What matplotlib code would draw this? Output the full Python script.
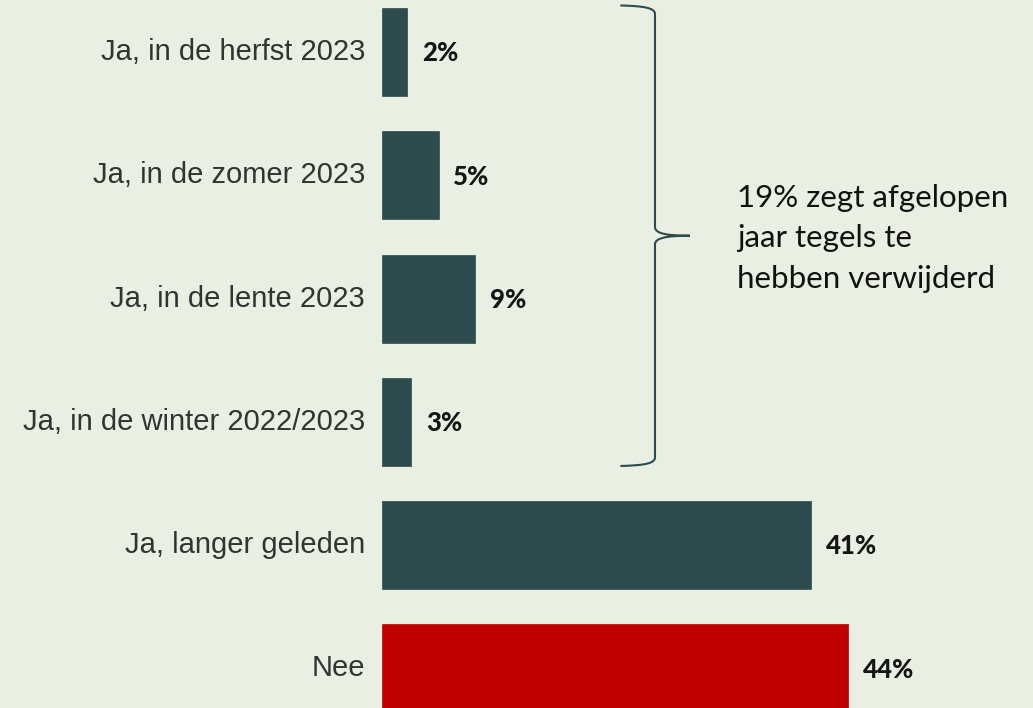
import matplotlib
matplotlib.use("Agg")
import matplotlib.pyplot as plt
from matplotlib.path import Path
from matplotlib.patches import PathPatch

categories = ["Ja, in de herfst 2023", "Ja, in de zomer 2023", "Ja, in de lente 2023",
              "Ja, in de winter 2022/2023", "Ja, langer geleden", "Nee"]
values = [2.4, 5.4, 8.9, 2.8, 40.9, 44.4]
value_labels = ["2%", "5%", "9%", "3%", "41%", "44%"]
bar_colors = ["#2D4A4C"] * 5 + ["#C00000"]
note = "19% zegt afgelopen\njaar tegels te\nhebben verwijderd"

bg = "#E9EFE2"
fig = plt.figure(figsize=(10.33, 7.08), dpi=100)
fig.patch.set_facecolor(bg)
ax = fig.add_axes([0, 0, 1, 1])
ax.set_facecolor(bg)

# 10.5 px per procentpunt, nulpunt op x=382 px
ax.set_xlim(-382 / 10.5, (1033 - 382) / 10.5)
ax.set_ylim((708 - 52) / 123.3, -52 / 123.3)
ax.axis("off")

h = 0.715
ys = list(range(len(categories)))
ax.barh(ys, values, height=h, color=bar_colors, edgecolor=bar_colors, linewidth=0.5)

for y, cat, v, lab in zip(ys, categories, values, value_labels):
    ax.text(-1.6, y, cat, ha="right", va="center", fontsize=21,
            family="Liberation Sans", color="#333333")
    ax.text(v + 1.4, y + 0.01, lab, ha="left", va="center", fontsize=18.5,
            family="Lato", fontweight="black", color="#151515")

# accolade rond de eerste vier balken
top = ys[0] - h / 2 - 0.02
bot = ys[3] + h / 2
mid = (top + bot) / 2
bx, tip, start = 26.0, 29.3, 22.7
r = 0.07
verts = [
    (start, top),
    (bx - 1.0, top + 0.005), (bx, top + 0.02), (bx, top + r),
    (bx, mid - r),
    (bx, mid - 0.02), (bx + 1.0, mid), (tip, mid),
    (bx + 1.0, mid), (bx, mid + 0.02), (bx, mid + r),
    (bx, bot - r),
    (bx, bot - 0.02), (bx - 1.0, bot - 0.005), (start, bot),
]
codes = [Path.MOVETO,
         Path.CURVE4, Path.CURVE4, Path.CURVE4,
         Path.LINETO,
         Path.CURVE4, Path.CURVE4, Path.CURVE4,
         Path.CURVE4, Path.CURVE4, Path.CURVE4,
         Path.LINETO,
         Path.CURVE4, Path.CURVE4, Path.CURVE4]
ax.add_patch(PathPatch(Path(verts, codes), facecolor="none",
                       edgecolor="#2D4A4C", linewidth=1.5))

ax.text(33.8, mid + 0.02, note, ha="left", va="center", fontsize=22.5,
        family="Lato", color="#111111", linespacing=1.55)

fig.savefig("out.png", dpi=100, facecolor=bg)
